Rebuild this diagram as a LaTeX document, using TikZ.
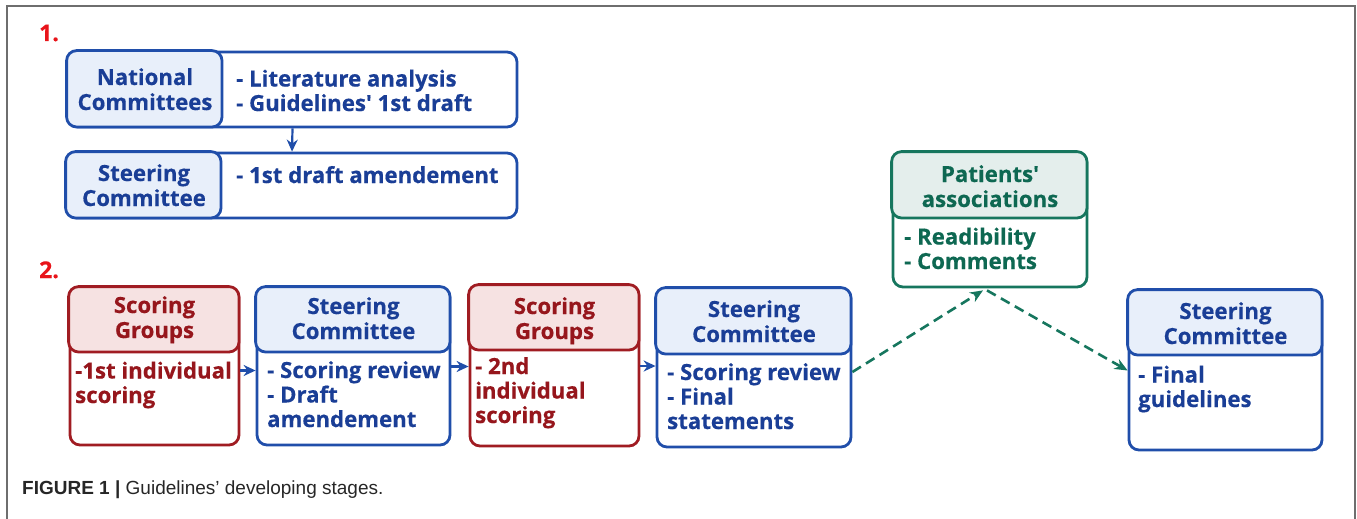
\documentclass[tikz,border=0pt]{standalone}
\usepackage{fontspec}
\newfontfamily\osans[BoldFeatures={FakeBold=0.4}]{Open Sans}
\newfontfamily\capfont{Liberation Sans}
\usetikzlibrary{arrows.meta,calc}
\definecolor{bl}{RGB}{32,78,170}
\definecolor{blt}{RGB}{26,62,150}
\definecolor{blf}{RGB}{232,239,250}
\definecolor{rd}{RGB}{160,28,34}
\definecolor{rdt}{RGB}{150,22,28}
\definecolor{rdf}{RGB}{246,226,226}
\definecolor{gr}{RGB}{22,118,94}
\definecolor{grt}{RGB}{14,104,82}
\definecolor{grf}{RGB}{228,238,236}
\definecolor{num}{RGB}{232,20,26}
\definecolor{frm}{RGB}{110,110,110}
\begin{document}
\begin{tikzpicture}[x=1pt,y=-1pt,
  boxs/.style={draw=#1,line width=2.8pt,rounded corners=10pt,fill=white,inner sep=0pt},
  hdrs/.style={draw=#1,line width=2.8pt,rounded corners=10pt},
  htext/.style={text=#1,font=\osans\bfseries\fontsize{22.2}{25}\selectfont,align=center,inner sep=0pt,anchor=base},
  btext/.style={text=#1,font=\osans\bfseries\fontsize{22.2}{24.5}\selectfont,align=left,inner sep=0pt,anchor=base west},
  arr/.style={draw=bl,line width=2.2pt,-{Stealth[length=12pt,width=11pt]}},
  darr/.style={draw=gr,line width=2.6pt,dash pattern=on 10pt off 6pt,-{Stealth[length=13pt,width=11pt]}}]
\useasboundingbox (0,0) rectangle (1357,519);
% frame
\draw[frm,line width=1.6pt] (7,519) -- (7,6) -- (1355,6) -- (1355,519);
% section numbers
\node[text=num,font=\osans\bfseries\fontsize{23}{24}\selectfont,anchor=base west,inner sep=0pt] (n1) at (39,41) {1.};
\node[text=num,font=\osans\bfseries\fontsize{23}{24}\selectfont,anchor=base west,inner sep=0pt] (n2) at (39,278) {2.};
% ---- section 1
\node[boxs=bl,minimum width=449pt,minimum height=75pt] (nc) at (292.5,89.5) {};
\draw[hdrs=bl,fill=blf] (nc.north west) rectangle (222,127);
\node[htext=blt] (nch) at (145,110) {National\\Committees};
\node[btext=blt] (ncb) at (236,111) {- Literature analysis\\- Guidelines' 1st draft};
\node[boxs=bl,minimum width=450pt,minimum height=65pt] (sc1) at (292,185.5) {};
\draw[hdrs=bl,fill=blf] (sc1.north west) rectangle (221,218);
\node[htext=blt] (sc1h) at (144,206) {Steering\\Committee};
\node[btext=blt] (sc1b) at (236,183) {- 1st draft amendement};
\draw[arr] (nc.south) -- (sc1.north);
% ---- section 2
% SG1
\node[boxs=rd,minimum width=169pt,minimum height=157pt] (sg1) at (154.5,366.5) {};
\draw[hdrs=rd,fill=rdf] (sg1.north west) rectangle (239,352);
\node[htext=rdt] (sg1h) at (154.5,338) {Scoring\\Groups};
\node[btext=rdt] (sg1b) at (75,403) {-1st individual\\scoring};
% SC2
\node[boxs=bl,minimum width=193pt,minimum height=157pt] (sc2) at (353.5,366.5) {};
\draw[hdrs=bl,fill=blf] (sc2.north west) rectangle (450,352);
\node[htext=blt] (sc2h) at (353.5,339) {Steering\\Committee};
\node[btext=blt] (sc2b) at (267,427) {- Scoring review\\- Draft\\amendement};
% SG2
\node[boxs=rd,minimum width=169pt,minimum height=160pt] (sg2) at (554.5,366) {};
\draw[hdrs=rd,fill=rdf] (sg2.north west) rectangle (639,350);
\node[htext=rdt] (sg2h) at (554.5,339) {Scoring\\Groups};
\node[btext=rdt] (sg2b) at (475,423) {- 2nd\\individual\\scoring};
% SC3
\node[boxs=bl,minimum width=194pt,minimum height=158pt] (sc3) at (754,368) {};
\draw[hdrs=bl,fill=blf] (sc3.north west) rectangle (851,354);
\node[htext=blt] (sc3h) at (754,342) {Steering\\Committee};
\node[btext=blt] (sc3b) at (667,429) {- Scoring review\\- Final\\statements};
% PA
\node[boxs=gr,minimum width=194pt,minimum height=134pt] (pa) at (990,220) {};
\draw[hdrs=gr,fill=grf] (pa.north west) rectangle (1087,218);
\node[htext=grt] (pah) at (990,207) {Patients'\\associations};
\node[btext=grt] (pab) at (904,269) {- Readibility\\- Comments};
% SC4
\node[boxs=bl,minimum width=193pt,minimum height=159pt] (sc4) at (1225.5,370.5) {};
\draw[hdrs=bl,fill=blf] (sc4.north west) rectangle (1322,355);
\node[htext=blt] (sc4h) at (1225.5,344) {Steering\\Committee};
\node[btext=blt] (sc4b) at (1138,407) {- Final\\guidelines};
% arrows
\draw[arr] ([yshift=-4pt]sg1.east) -- ([yshift=-4pt]sc2.west);
\draw[arr] (sc2.east) -- (sc2.east -| sg2.west);
\draw[arr] (sg2.east) -- (sg2.east -| sc3.west);
\draw[darr] ([yshift=-4pt]sc3.east) -- ([xshift=-7pt,yshift=-2pt]pa.south);
\draw[darr] ([xshift=-3pt,yshift=-2pt]pa.south) -- (sc4.west);
% caption
\node[anchor=base west,inner sep=0pt,font=\capfont\fontsize{19}{21}\selectfont,text=black!85] (cap) at (22,494) {\textbf{FIGURE 1 |} Guidelines’ developing stages.};
\end{tikzpicture}
\end{document}
